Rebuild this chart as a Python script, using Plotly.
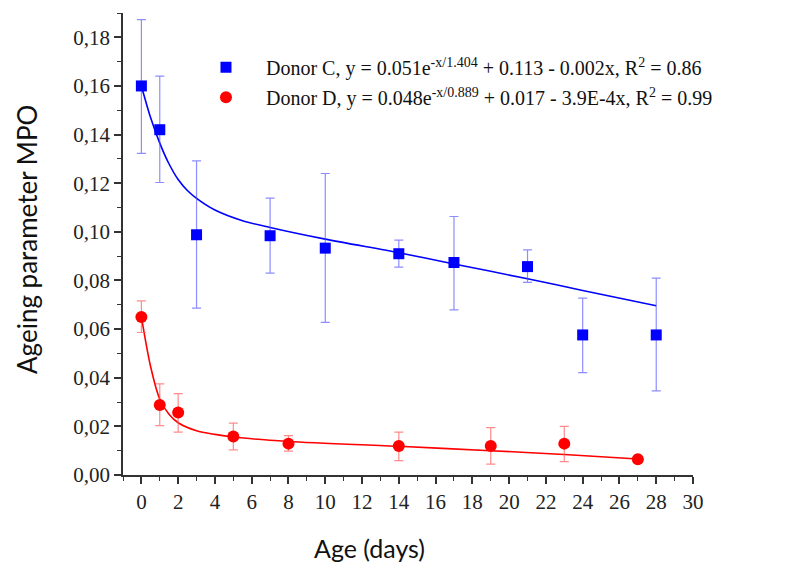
import plotly.graph_objects as go

# Donor C (blue squares)
c_age = [0, 1, 3, 7, 10, 14, 17, 21, 24, 28]
c_mpo = [0.160, 0.142, 0.0988, 0.0984, 0.0933, 0.0910, 0.0874, 0.0857, 0.0576, 0.0576]
c_err_plus = [0.0273, 0.0220, 0.0304, 0.0155, 0.0307, 0.0056, 0.0189, 0.0069, 0.0151, 0.0234]
c_err_minus = [0.0277, 0.0217, 0.0302, 0.0154, 0.0305, 0.0055, 0.0195, 0.0065, 0.0155, 0.0230]

# Donor D (red circles)
d_age = [0, 1, 2, 5, 8, 14, 19, 23, 27]
d_mpo = [0.0650, 0.0288, 0.0257, 0.0158, 0.0129, 0.0119, 0.0119, 0.0129, 0.0065]
d_err_plus = [0.0066, 0.0087, 0.0078, 0.0055, 0.0033, 0.0057, 0.0076, 0.0071, 0.0]
d_err_minus = [0.0064, 0.0085, 0.0081, 0.0055, 0.0031, 0.0060, 0.0074, 0.0074, 0.0]

# Fitted curves
c_fit_x = [0, 0.5, 1, 1.5, 2, 2.5, 3, 4, 5.5, 7, 10, 14, 17, 21, 24, 28]
c_fit_y = [0.160, 0.147, 0.1365, 0.1280, 0.1215, 0.1170, 0.1138, 0.1090, 0.1046, 0.1018, 0.0970, 0.0914, 0.0868, 0.0807, 0.0759, 0.0696]
d_fit_x = [0, 0.5, 1, 1.5, 2, 3, 4, 5, 8, 14, 19, 23, 27]
d_fit_y = [0.0650, 0.0446, 0.0312, 0.0250, 0.0215, 0.0182, 0.0167, 0.0156, 0.0138, 0.0118, 0.0100, 0.0084, 0.0066]

c_label = "Donor C, y = 0.051e<sup>-x/1.404</sup> + 0.113 - 0.002x, R<sup>2</sup> = 0.86"
d_label = "Donor D, y = 0.048e<sup>-x/0.889</sup> + 0.017 - 3.9E-4x, R<sup>2</sup> = 0.99"

x_ticks = list(range(0, 31, 2))
y_ticks = [0.00, 0.02, 0.04, 0.06, 0.08, 0.10, 0.12, 0.14, 0.16, 0.18]

BLUE = "#0000ff"
RED = "#ff0000"

fig = go.Figure()

fig.add_trace(go.Scatter(x=c_fit_x, y=c_fit_y, mode="lines", line=dict(color=BLUE, width=1.6, shape="spline", smoothing=0.8),
                         showlegend=False, hoverinfo="skip"))
fig.add_trace(go.Scatter(x=d_fit_x, y=d_fit_y, mode="lines", line=dict(color=RED, width=1.6, shape="spline", smoothing=0.8),
                         showlegend=False, hoverinfo="skip"))

fig.add_trace(go.Scatter(
    x=c_age, y=c_mpo, mode="markers", name=c_label, legendgroup="c",
    marker=dict(symbol="square", size=11, color=BLUE),
    error_y=dict(type="data", symmetric=False, array=c_err_plus, arrayminus=c_err_minus,
                 color="rgba(80,80,255,0.65)", thickness=1.2, width=4.5),
))
fig.add_trace(go.Scatter(
    x=d_age, y=d_mpo, mode="markers", name=d_label, legendgroup="d",
    marker=dict(symbol="circle", size=12, color=RED),
    error_y=dict(type="data", symmetric=False, array=d_err_plus, arrayminus=d_err_minus,
                 color="rgba(255,90,90,0.7)", thickness=1.2, width=4.5),
))

axis_font = dict(family="Liberation Serif", size=21, color="#222")

fig.update_layout(
    width=786, height=564,
    margin=dict(l=123, r=93, t=13, b=89),
    paper_bgcolor="white", plot_bgcolor="white",
    separators=",.",
    showlegend=True,
    legend=dict(x=0.1105, y=0.925, xanchor="left", yanchor="top",
                font=dict(family="Liberation Serif", size=20, color="#111"),
                itemwidth=70, bgcolor="rgba(0,0,0,0)",
                traceorder="grouped", tracegroupgap=1),
    xaxis=dict(range=[-1, 30], tickmode="array", tickvals=x_ticks,
               ticks="outside", ticklen=7, tickwidth=1.5, tickcolor="#333",
               showline=True, linecolor="#333", linewidth=1.5,
               showgrid=False, zeroline=False, tickfont=axis_font,
               minor=dict(dtick=1, ticks="outside", ticklen=4, tickwidth=1.3, tickcolor="#333", showgrid=False)),
    yaxis=dict(range=[0, 0.19], tickmode="array", tickvals=y_ticks, tickformat=".2f",
               ticks="outside", ticklen=7, tickwidth=1.5, tickcolor="#333",
               showline=True, linecolor="#333", linewidth=1.5,
               showgrid=False, zeroline=False, tickfont=axis_font,
               minor=dict(dtick=0.01, ticks="outside", ticklen=4, tickwidth=1.3, tickcolor="#333", showgrid=False)),
    annotations=[
        dict(text="Age (days)", xref="paper", yref="paper", x=(369 - 123) / 570, y=-(548 - 475) / 462,
             xanchor="center", yanchor="middle", showarrow=False,
             font=dict(family="Lato", size=25, color="#111")),
        dict(text="Ageing parameter MPO", xref="paper", yref="paper", x=-(123 - 27) / 570, y=(475 - 240) / 462,
             xanchor="center", yanchor="middle", showarrow=False, textangle=-90,
             font=dict(family="Lato", size=26, color="#111")),
    ],
)

fig.write_html("out.html", config={"displayModeBar": False},
               post_script="document.body.style.margin='0';document.body.style.overflow='hidden';")
